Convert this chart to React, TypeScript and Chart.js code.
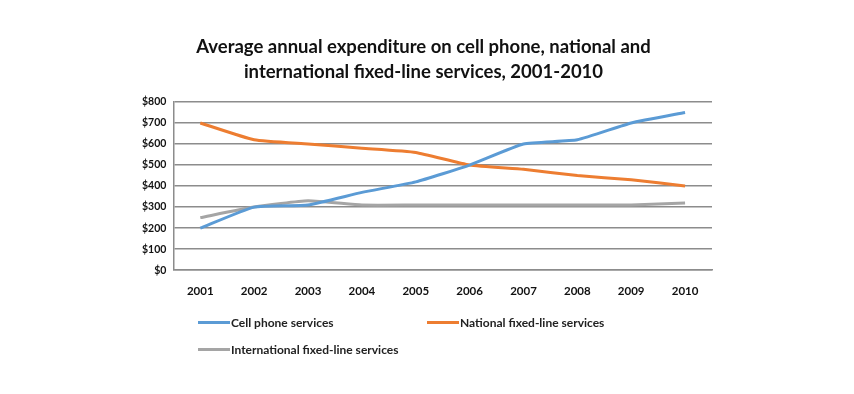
import React, { useEffect, useRef } from "react";
import { Chart, registerables } from "chart.js";

Chart.register(...registerables);

const years = ["2001", "2002", "2003", "2004", "2005", "2006", "2007", "2008", "2009", "2010"];
const cellPhone = [200, 300, 310, 370, 420, 500, 600, 620, 700, 750];
const nationalFixed = [700, 620, 600, 580, 560, 500, 480, 450, 430, 400];
const internationalFixed = [250, 300, 330, 310, 310, 310, 310, 310, 310, 320];
const titleLines = [
  "Average annual expenditure on cell phone, national and",
  "international fixed-line services, 2001-2010",
];
const seriesNames = ["Cell phone services", "National fixed-line services", "International fixed-line services"];
const colors = ["#5b9bd5", "#ed7d31", "#a5a5a5"];

const FONT = "Lato, 'Open Sans', sans-serif";

export default function App() {
  const ref = useRef<HTMLCanvasElement | null>(null);
  useEffect(() => {
    if (!ref.current) return;
    const chart = new Chart(ref.current, {
      type: "line",
      data: {
        labels: years,
        datasets: [cellPhone, nationalFixed, internationalFixed].map((d, i) => ({
          label: seriesNames[i],
          data: d,
          borderColor: colors[i],
          backgroundColor: colors[i],
          borderWidth: 3,
          pointRadius: 0,
          tension: 0.15,
        })),
      },
      options: {
        animation: false,
        responsive: false,
        layout: { padding: { left: 135, right: 142, top: 35, bottom: 90 } },
        plugins: {
          legend: { display: false },
          tooltip: { enabled: false },
          title: {
            display: true,
            text: titleLines,
            color: "#111",
            font: { family: FONT, size: 18.5, weight: "bold", lineHeight: 1.35 },
            padding: { top: 0, bottom: 17 },
          },
        },
        scales: {
          x: {
            offset: true,
            grid: { display: false },
            border: { display: true, color: "#8c8c8c", width: 1.5 },
            ticks: { color: "#111", font: { family: FONT, size: 11.5, weight: "bold" }, padding: 6 },
          },
          y: {
            min: 0,
            max: 800,
            ticks: {
              stepSize: 100,
              color: "#111",
              padding: 7,
              font: { family: FONT, size: 10.5, weight: "bold" },
              callback: (v: any) => "$" + v,
            },
            grid: { color: "#8c8c8c", lineWidth: 1.5, drawTicks: false },
            border: { display: true, color: "#8c8c8c", width: 1.5 },
          },
        },
      },
    });
    return () => chart.destroy();
  }, []);

  const legendItem = (i: number, left: number, top: number) => (
    <div
      key={i}
      style={{
        position: "absolute",
        left,
        top,
        display: "flex",
        alignItems: "center",
        fontFamily: FONT,
        fontWeight: "bold",
        fontSize: 12,
        color: "#222",
        whiteSpace: "nowrap",
      }}
    >
      <span style={{ display: "inline-block", width: 32, height: 3, background: colors[i], marginRight: 1 }} />
      <span>{seriesNames[i]}</span>
    </div>
  );

  return (
    <div style={{ position: "fixed", left: 0, top: 0, width: 854, height: 394, background: "#fff" }}>
      <canvas ref={ref} width={854} height={394} style={{ position: "absolute", left: 0, top: 0 }} />
      {legendItem(0, 198, 315)}
      {legendItem(1, 427, 315)}
      {legendItem(2, 198, 342)}
    </div>
  );
}
